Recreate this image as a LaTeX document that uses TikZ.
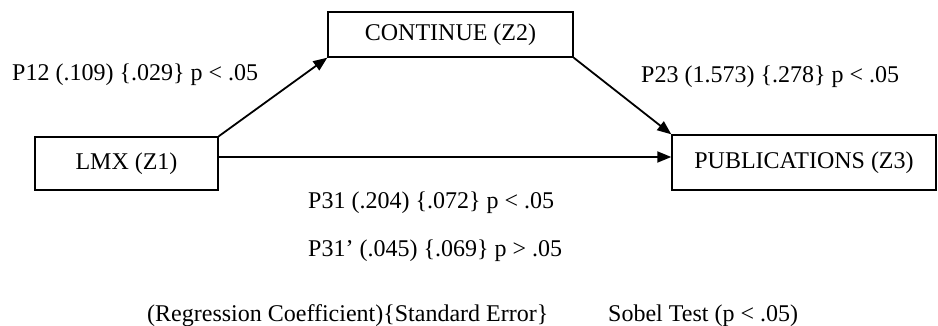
\documentclass[tikz,border=0pt]{standalone}
\usepackage{fontspec}
\setmainfont{Liberation Serif}
\usetikzlibrary{arrows.meta}
\begin{document}
\begin{tikzpicture}[x=1pt,y=-1pt,
  font=\fontsize{24}{28}\selectfont,
  varbox/.style={draw,line width=1.4pt,rectangle,inner sep=0pt},
  txt/.style={inner sep=0pt},
  effect/.style={line width=1.8pt,-{Triangle[length=14pt,width=11pt]}}]
\useasboundingbox (0,0) rectangle (938,326);
% variables
\node[varbox,minimum width=183pt,minimum height=53pt] (lmx) at (126.5,163.5) {LMX (Z1)};
\node[varbox,minimum width=245pt,minimum height=45pt] (cont) at (450.5,34.5) {CONTINUE (Z2)};
\node[varbox,minimum width=264pt,minimum height=55pt] (pub) at (804,162.5) {PUBLICATIONS (Z3)};
% paths
\draw[effect] (lmx.north east) -- (cont.south west);
\draw[effect] (cont.south east) -- (pub.north west);
\draw[effect] ([yshift=6.5pt]lmx.east) -- ([yshift=6.5pt]lmx.east -| pub.west);
% coefficients
\node[txt,anchor=base west] (p12) at (12,81) {P12 (.109) \{.029\} p < .05};
\node[txt,anchor=base west] (p23) at (641,83) {P23 (1.573) \{.278\} p < .05};
\node[txt,anchor=base west] (p31) at (308,208) {P31 (.204) \{.072\} p < .05};
\node[txt,anchor=base west] (p31d) at (308,257) {P31’ (.045) \{.069\} p > .05};
% legend
\node[txt,anchor=base west] (legend) at (147,321) {(Regression Coefficient)\{Standard Error\}};
\node[txt,anchor=base west] (sobel) at (608,321) {Sobel Test (p < .05)};
\end{tikzpicture}
\end{document}
